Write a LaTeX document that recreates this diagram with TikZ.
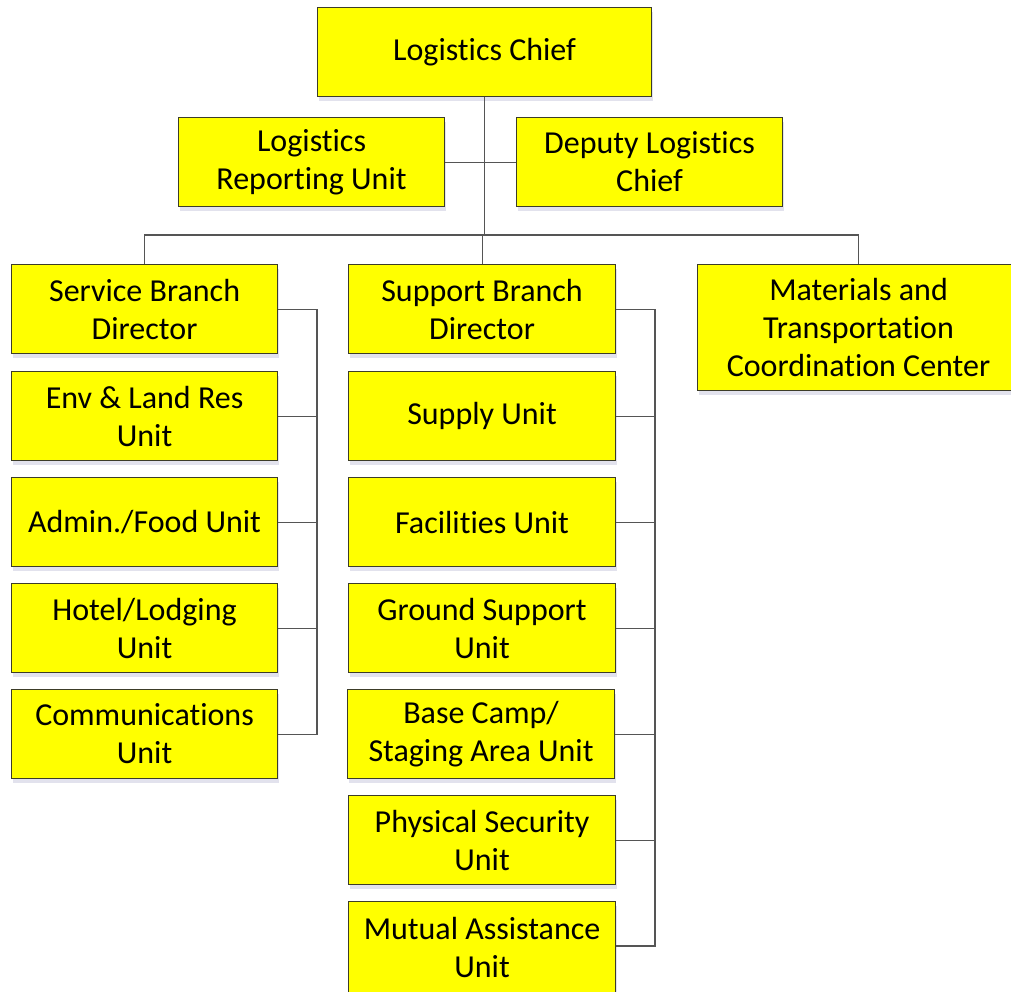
\documentclass[tikz,border=0pt]{standalone}
\usepackage{fontspec}
\setmainfont{Carlito}[Ligatures=NoCommon]
\usetikzlibrary{shadows}
\definecolor{boxfill}{RGB}{255,255,0}
\definecolor{boxline}{RGB}{60,60,40}
\definecolor{conn}{RGB}{85,85,85}
\tikzset{
  box/.style={draw=boxline, line width=1.1pt, fill=boxfill, anchor=north west,
    inner sep=0pt, align=center, font=\fontsize{32}{38}\selectfont,
    drop shadow={shadow xshift=1pt, shadow yshift=-4pt, fill=blue!25!gray!40, opacity=0.45}},
  conn/.style={draw=conn, line width=1.1pt}
}
\begin{document}
\begin{tikzpicture}[x=1pt,y=-1pt]
\clip (0,0) rectangle (1011,991);
\fill[white] (0,0) rectangle (1011,991);
% top
\node[box, minimum width=334pt, minimum height=89pt] (chief) at (317,7) {Logistics Chief};
\node[box, minimum width=266pt, minimum height=89pt] (lru) at (178,117) {Logistics\\Reporting Unit};
\node[box, minimum width=266pt, minimum height=89pt] (dlc) at (516,117) {Deputy Logistics\\Chief};
% service branch
\node[box, minimum width=266pt, minimum height=89pt] (sbd) at (11,264) {Service Branch\\Director};
\node[box, minimum width=266pt, minimum height=89pt] (env) at (11,371) {Env \& Land Res\\Unit};
\node[box, minimum width=266pt, minimum height=89pt] (food) at (11,477) {Admin./Food Unit};
\node[box, minimum width=266pt, minimum height=89pt] (hotel) at (11,583) {Hotel/Lodging\\Unit};
\node[box, minimum width=266pt, minimum height=89pt] (comm) at (11,689) {Communications\\Unit};
% support branch
\node[box, minimum width=267pt, minimum height=89pt] (spd) at (348,264) {Support Branch\\Director};
\node[box, minimum width=267pt, minimum height=89pt] (supply) at (348,371) {Supply Unit};
\node[box, minimum width=267pt, minimum height=89pt] (fac) at (348,477) {Facilities Unit};
\node[box, minimum width=267pt, minimum height=89pt] (ground) at (348,583) {Ground Support\\Unit};
\node[box, minimum width=267pt, minimum height=89pt] (base) at (347,689) {Base Camp/\\Staging Area Unit};
\node[box, minimum width=267pt, minimum height=89pt] (phys) at (348,795) {Physical Security\\Unit};
\node[box, minimum width=267pt, minimum height=92pt] (mutual) at (348,901) {Mutual Assistance\\Unit};
% materials
\node[box, minimum width=322pt, minimum height=126pt] (mat) at (697,264) {Materials and\\Transportation\\Coordination Center};
% connectors
\coordinate (bus) at (484,235);
\coordinate (sx) at (317,0);
\coordinate (px) at (655,0);
\draw[conn] (chief.south) -- (chief.south |- bus);
\draw[conn] (lru.east) -- (dlc.west);
\draw[conn] (sbd.north) -- (sbd.north |- bus) -- (mat.north |- bus) -- (mat.north);
\draw[conn] (spd.north) -- (spd.north |- bus);
% service bracket
\draw[conn] (sbd.east) -- (sbd.east -| sx) -- (comm.east -| sx) -- (comm.east);
\draw[conn] (env.east) -- (env.east -| sx);
\draw[conn] (food.east) -- (food.east -| sx);
\draw[conn] (hotel.east) -- (hotel.east -| sx);
% support bracket
\draw[conn] (spd.east) -- (spd.east -| px) -- (px |- 0,946) -- (mutual.east |- 0,946);
\draw[conn] (supply.east) -- (supply.east -| px);
\draw[conn] (fac.east) -- (fac.east -| px);
\draw[conn] (ground.east) -- (ground.east -| px);
\draw[conn] (base.east) -- (base.east -| px);
\draw[conn] (phys.east) -- (phys.east -| px);
\end{tikzpicture}
\end{document}
